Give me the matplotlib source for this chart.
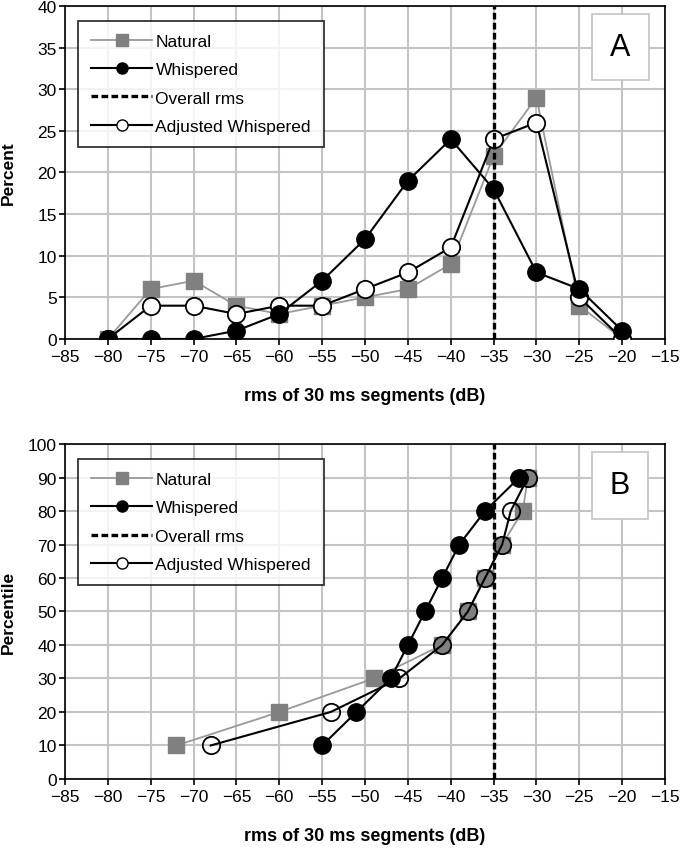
import numpy as np
import matplotlib
matplotlib.use("Agg")
import matplotlib.pyplot as plt
from matplotlib.lines import Line2D

plt.rcParams['font.family'] = ['Liberation Sans', 'DejaVu Sans']

# panel A: histogram of segment rms
rms_bins = [-80, -75, -70, -65, -60, -55, -50, -45, -40, -35, -30, -25, -20]
natural_pct = [0, 6, 7, 4, 3, 4, 5, 6, 9, 22, 29, 4, 0]
whisper_pct = [0, 0, 0, 1, 3, 7, 12, 19, 24, 18, 8, 6, 1]
adjusted_pct = [0, 4, 4, 3, 4, 4, 6, 8, 11, 24, 26, 5, 0]

# panel B: percentiles
percentiles = [10, 20, 30, 40, 50, 60, 70, 80, 90]
natural_db = [-72, -60, -49, -41, -38, -36, -34, -31.6, -31]
whisper_db = [-55, -51, -47, -45, -43, -41, -39, -36, -32]
adjusted_db = [-68, -54, -46, -41, -38, -36, -34, -33, -31]

overall_rms = -35
xticks = list(range(-85, -14, 5))

GREY = '#808080'
LGREY = '#999999'

def style_ax(ax):
    ax.set_xlim(-85, -15)
    ax.set_xticks(xticks)
    ax.grid(True, color='#c4c4c4', lw=1.5, zorder=0)
    ax.set_axisbelow(True)
    for s in ax.spines.values():
        s.set_color('black')
        s.set_linewidth(1.2)
    ax.tick_params(labelsize=12.5, length=4, direction='out', width=1.2)
    ax.tick_params(axis='y', pad=2)
    ax.set_xlabel('rms of 30 ms segments (dB)', fontsize=13, fontweight='bold',
                  labelpad=16)

def add_legend(ax):
    handles = [
        Line2D([], [], color=LGREY, lw=1.3, marker='s', ms=8, mfc=GREY, mec=GREY),
        Line2D([], [], color='black', lw=1.5, marker='o', ms=8, mfc='black', mec='black'),
        Line2D([], [], color='black', lw=2.4, ls=(0, (2, 1))),
        Line2D([], [], color='black', lw=1.5, marker='o', ms=8, mfc='white', mec='black'),
    ]
    labels = ['Natural', 'Whispered', 'Overall rms', 'Adjusted Whispered']
    leg = ax.legend(handles, labels, loc='upper left', bbox_to_anchor=(0.022, 0.955),
                    fontsize=12.5, frameon=True, fancybox=False, edgecolor='black',
                    handlelength=3.5, handletextpad=0.2, labelspacing=0.75,
                    borderpad=0.75, borderaxespad=0)
    leg.get_frame().set_linewidth(1.3)

def add_tag(ax, letter):
    ax.text(0.925, 0.877, letter, transform=ax.transAxes, fontsize=22,
            ha='center', va='center',
            bbox=dict(boxstyle='square,pad=0.6', fc='white', ec='#c4c4c4', lw=1.2))

fig = plt.figure(figsize=(6.8, 8.54), dpi=100)
ax1 = fig.add_axes([0.0956, 0.6019, 0.8824, 0.3899])
ax2 = fig.add_axes([0.0956, 0.0867, 0.8824, 0.3922])

# --- A
ax1.plot(rms_bins, natural_pct, color=LGREY, lw=1.3, marker='s', ms=11,
         mfc=GREY, mec=GREY, zorder=3)
ax1.plot(rms_bins, adjusted_pct, color='black', lw=1.5, marker='o', ms=12.5,
         mfc='white', mec='black', mew=1.3, zorder=4)
ax1.plot(rms_bins, whisper_pct, color='black', lw=1.5, marker='o', ms=12.5,
         mfc='black', mec='black', zorder=5)
ax1.axvline(overall_rms, color='black', lw=2.4, ls=(0, (2, 1)), zorder=6)
style_ax(ax1)
ax1.set_ylim(0, 40)
ax1.set_yticks(range(0, 41, 5))
ax1.set_ylabel('Percent', fontsize=12.5, fontweight='bold')
ax1.yaxis.set_label_coords(-0.082, 0.5)
add_legend(ax1)
add_tag(ax1, 'A')

# --- B
ax2.plot(natural_db, percentiles, color=LGREY, lw=1.3, marker='s', ms=11,
         mfc=GREY, mec=GREY, zorder=3)
ax2.plot(adjusted_db, percentiles, color='black', lw=1.5, marker='o', ms=12.5,
         mfc='none', mec='black', mew=1.3, zorder=4)
ax2.plot(whisper_db, percentiles, color='black', lw=1.5, marker='o', ms=12.5,
         mfc='black', mec='black', zorder=5)
ax2.axvline(overall_rms, color='black', lw=2.4, ls=(0, (2, 1)), zorder=6)
style_ax(ax2)
ax2.set_ylim(0, 100)
ax2.set_yticks(range(0, 101, 10))
ax2.set_ylabel('Percentile', fontsize=12.5, fontweight='bold')
ax2.yaxis.set_label_coords(-0.082, 0.5)
add_legend(ax2)
add_tag(ax2, 'B')

fig.savefig('out.png', dpi=100, facecolor='white')
